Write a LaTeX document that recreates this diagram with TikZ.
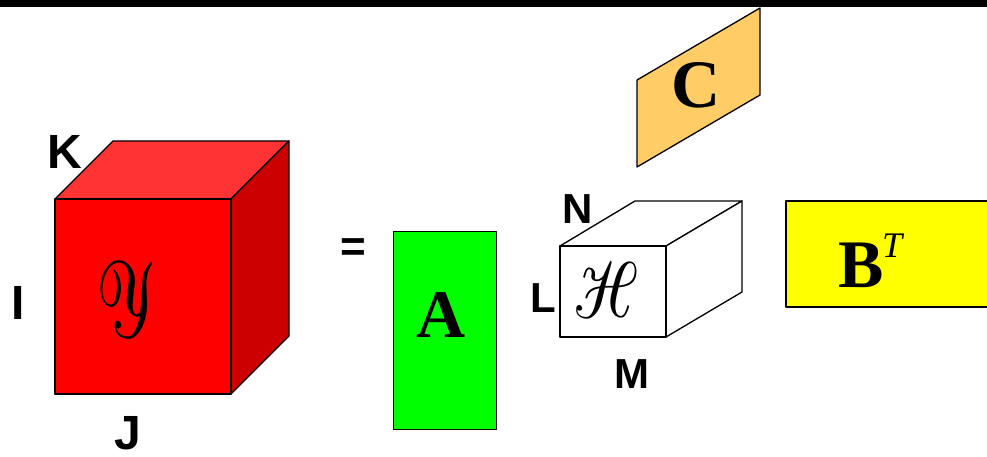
\documentclass[tikz,border=0pt]{standalone}
\usepackage{fontspec}
\usepackage{mathrsfs}
\setmainfont{Liberation Serif}
\newfontfamily\labfont{Liberation Sans}
\definecolor{ytop}{HTML}{FF3333}
\definecolor{yfront}{HTML}{FF0000}
\definecolor{yside}{HTML}{CC0000}
\definecolor{agreen}{HTML}{00FF00}
\definecolor{byellow}{HTML}{FFFF00}
\definecolor{corange}{HTML}{FFCC66}
\begin{document}
\begin{tikzpicture}[x=1pt,y=-1pt,line join=round,
  edge/.style={draw=black,line width=1.3pt},
  dimbig/.style={font=\labfont\bfseries\fontsize{48}{48}\selectfont,anchor=base,inner sep=0pt},
  dimsmall/.style={font=\labfont\bfseries\fontsize{42}{42}\selectfont,anchor=base,inner sep=0pt},
  matlabel/.style={font=\bfseries\fontsize{68}{68}\selectfont,anchor=base,inner sep=0pt},
  scriptlabel/.style={anchor=center,inner sep=0pt,transform shape,xslant=-0.33}]
\useasboundingbox (0,0) rectangle (987,457);
% top rule
\coordinate (rl) at (0,4);
\coordinate (rr) at (987,4);
\draw[line width=7pt] (rl) -- (rr);
% red cube Y
\coordinate (y1) at (55,199);
\coordinate (y2) at (231,199);
\coordinate (y3) at (231,394);
\coordinate (y4) at (55,394);
\coordinate (y5) at (113,141);
\coordinate (y6) at (289,141);
\coordinate (y7) at (289,336);
\filldraw[fill=ytop,edge] (y1) -- (y5) -- (y6) -- (y2) -- cycle;
\filldraw[fill=yside,edge] (y2) -- (y6) -- (y7) -- (y3) -- cycle;
\filldraw[fill=yfront,edge] (y1) -- (y2) -- (y3) -- (y4) -- cycle;
\node[scriptlabel] (ylab) at (133,300) {\resizebox*{68pt}{75pt}{$\mathscr{Y}$}};
\node[dimbig] (K) at (65,168) {K};
\node[dimbig] (I) at (18.5,319) {I};
\node[dimbig,text depth=0pt] (J) at (128,449) {J};
% equals
\node[font=\labfont\bfseries\fontsize{44}{44}\selectfont,inner sep=0pt] (eq) at (353,250) {=};
% A
\node[draw=black,line width=1.3pt,fill=agreen,minimum width=103pt,minimum height=198pt,inner sep=0pt,anchor=north west] (Abox) at (393,231) {};
\node[matlabel] (A) at (441,337) {A};
% core tensor H
\coordinate (h1) at (560,246);
\coordinate (h2) at (666,246);
\coordinate (h3) at (666,337);
\coordinate (h4) at (560,337);
\coordinate (h5) at (635,201);
\coordinate (h6) at (742,201);
\coordinate (h7) at (742,292);
\filldraw[fill=white,edge] (h1) -- (h5) -- (h6) -- (h2) -- cycle;
\filldraw[fill=white,edge] (h2) -- (h6) -- (h7) -- (h3) -- cycle;
\filldraw[fill=white,edge] (h1) -- (h2) -- (h3) -- (h4) -- cycle;
\node[scriptlabel] (hlab) at (606,290) {\resizebox*{78pt}{55pt}{$\mathscr{H}$}};
\node[dimsmall] (N) at (578,223) {N};
\node[dimsmall] (L) at (543,312) {L};
\node[dimsmall] (M) at (632,388) {M};
% C
\coordinate (c1) at (637,80);
\coordinate (c2) at (760,8);
\coordinate (c3) at (760,95);
\coordinate (c4) at (637,167);
\filldraw[fill=corange,edge] (c1) -- (c2) -- (c3) -- (c4) -- cycle;
\node[matlabel] (C) at (696,108) {C};
% B^T
\coordinate (b1) at (786,201);
\coordinate (b2) at (1000,307);
\filldraw[fill=byellow,edge] (b1) rectangle (b2);
\node[matlabel] (B) at (861,287) {B};
\node[font=\itshape\fontsize{36}{36}\selectfont,anchor=base,inner sep=0pt] (T) at (892,257) {T};
\end{tikzpicture}
\end{document}
